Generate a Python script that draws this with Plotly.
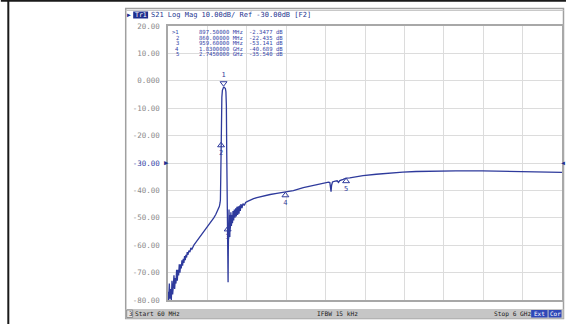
import plotly.graph_objects as go

# ---------------- data ----------------
freq_mhz = [60, 70, 80, 90, 100, 110, 120, 130, 140, 150, 160, 170, 180, 190, 200, 210, 220, 230, 240, 250,
            260, 270, 280, 290, 300, 310, 320, 330, 340, 350, 360, 375, 390, 405, 420, 435, 450,
            480, 510, 540, 570, 600, 630, 660, 690, 720, 750, 780, 800, 820, 835, 845, 850, 855,
            860, 866, 872, 880, 890, 897.5, 905, 915, 925, 933, 940, 945, 948, 952, 956, 959.6,
            963, 966, 969, 972, 976, 980, 984, 988, 992, 996, 1000, 1008, 1016, 1024, 1032, 1040,
            1050, 1060, 1070, 1080, 1090, 1100, 1110, 1120, 1130, 1140, 1150, 1160, 1175, 1190,
            1210, 1230, 1260, 1300, 1350, 1400, 1450, 1500, 1600, 1700, 1830, 1950, 2100, 2200,
            2300, 2400, 2480, 2500, 2510, 2518, 2526, 2540, 2580, 2610, 2630, 2650, 2700, 2745,
            2800, 2900, 3000, 3200, 3400, 3600, 3800, 4000, 4400, 4800, 5200, 5600, 6000]
s21_db = [-77, -80, -74, -79.5, -76, -80, -73, -78, -75, -71, -76, -72, -74, -69, -73, -69, -71, -67, -70, -67,
          -68.5, -65.5, -67.5, -65, -66.5, -64, -65.5, -63.5, -64.5, -62.5, -63.5, -62, -62.5, -61, -61.5, -60.3, -60,
          -59, -58, -57.2, -56.2, -55.2, -54.3, -53.4, -52.3, -51.2, -50, -48.8, -47.8, -46.8, -45.8, -44.5, -43.5, -36,
          -22.435, -12, -6, -3.5, -2.6, -2.3477, -2.3, -2.4, -2.8, -4, -9, -25, -38, -41, -48, -53.141,
          -66, -73.5, -62, -50, -53, -47, -55, -49, -57, -50, -54, -48, -53, -49, -52, -47.5,
          -51, -47, -50, -46.5, -49.5, -46, -49, -45.8, -48.5, -45.5, -47.5, -45, -46.5, -44.8,
          -45.5, -44.4, -44, -43.5, -43, -42.6, -42.3, -42, -41.5, -41.1, -40.689, -40.1, -39.0, -38.4,
          -37.9, -37.4, -37.0, -37.1, -38.8, -40.5, -38.2, -36.9, -36.6, -36.5, -37.1, -36.4, -36.0, -35.54,
          -35.4, -35.0, -34.6, -34.1, -33.6, -33.3, -33.1, -33.0, -32.9, -32.9, -33.0, -33.2, -33.4]

marker_ids = ["1", "2", "3", "4", "5"]
marker_freq_mhz = [897.5, 860.0, 959.6, 1830.0, 2745.0]
marker_db = [-2.3477, -22.435, -53.141, -40.689, -35.540]
marker_freq_text = ["897.50000 MHz", "860.00000 MHz", "959.60000 MHz", "1.8300000 GHz", "2.7450000 GHz"]
marker_val_text = ["-2.3477 dB", "-22.435 dB", "-53.141 dB", "-40.689 dB", "-35.540 dB"]

y_ticks = [20, 10, 0, -10, -20, -30, -40, -50, -60, -70, -80]
y_tick_labels = ["20.00", "10.00", "0.000", "-10.00", "-20.00", "-30.00", "-40.00", "-50.00", "-60.00", "-70.00", "-80.00"]
ref_level = -30
x_start, x_stop = 60, 6000
y_min, y_max = -80, 20

title_text = "S21 Log Mag 10.00dB/ Ref -30.00dB [F2]"
status_left = "Start 60 MHz"
status_mid = "IFBW 15 kHz"
status_right = "Stop 6 GHz"

# ---------------- layout geometry (pixels) ----------------
W, H = 568, 324
L, R, T, B = 168, 564, 26, 300


def px(x):
    return (x - L) / (R - L)


def py(y):
    return (B - y) / (B - T)


db_per_px = (y_max - y_min) / (B - T)

TRACE = "#2e3a9c"
BLUE = "#3545a8"
MONO = "DejaVu Sans Mono"

fig = go.Figure()

fig.add_trace(go.Scatter(x=freq_mhz, y=s21_db, mode="lines",
                         line=dict(color=TRACE, width=1.3), hoverinfo="skip", showlegend=False))

# markers on the trace
active = [marker_ids[0]]
fig.add_trace(go.Scatter(
    x=[marker_freq_mhz[0]], y=[marker_db[0] + 4 * db_per_px], mode="markers+text",
    marker=dict(symbol="triangle-down-open", size=6, color=TRACE, line=dict(width=1, color=TRACE)),
    text=active, textposition="top center", textfont=dict(family=MONO, size=7, color=TRACE),
    cliponaxis=False, showlegend=False, hoverinfo="skip"))
fig.add_trace(go.Scatter(
    x=marker_freq_mhz[1:], y=[v - 3 * db_per_px for v in marker_db[1:]], mode="markers+text",
    marker=dict(symbol="triangle-up-open", size=6, color=TRACE, line=dict(width=1, color=TRACE)),
    text=marker_ids[1:], textposition="bottom center", textfont=dict(family=MONO, size=7, color=TRACE),
    cliponaxis=False, showlegend=False, hoverinfo="skip"))

# marker triangles below the axis
fig.add_trace(go.Scatter(
    x=marker_freq_mhz, y=[y_min - 3.5 * db_per_px] * len(marker_freq_mhz), mode="markers",
    marker=dict(symbol=["triangle-up"] + ["triangle-up-open"] * 4, size=8, color="#4a5ab8",
                line=dict(width=1, color="#4a5ab8")),
    cliponaxis=False, showlegend=False, hoverinfo="skip"))

tick_text = [f"<span style='color:{BLUE}'>{t}</span>" if v == ref_level else t
             for v, t in zip(y_ticks, y_tick_labels)]

fig.update_layout(
    width=W, height=H, autosize=False,
    margin=dict(l=L, r=W - R, t=T, b=H - B, pad=0),
    paper_bgcolor="white", plot_bgcolor="white",
    showlegend=False,
    xaxis=dict(range=[x_start, x_stop], tick0=x_start, dtick=(x_stop - x_start) / 10,
               showticklabels=False, ticks="", showgrid=True, gridcolor="#dcdcdc", gridwidth=1,
               showline=True, linecolor="#a8a8a8", linewidth=1.5, mirror=True, zeroline=False,
               fixedrange=True),
    yaxis=dict(range=[y_min, y_max], tickvals=y_ticks, ticktext=tick_text, ticks="",
               tickfont=dict(family=MONO, size=7.5, color="#8a8a8a"), ticklabelstandoff=5,
               showgrid=True, gridcolor="#dcdcdc", gridwidth=1,
               showline=True, linecolor="#a8a8a8", linewidth=1.5, mirror=True, zeroline=False,
               fixedrange=True),
)

shapes = []
# outer table borders
shapes.append(dict(type="line", xref="paper", yref="paper", x0=px(0), x1=px(W), y0=py(0.8), y1=py(0.8),
                   line=dict(color="#1a1a1a", width=2)))
shapes.append(dict(type="line", xref="paper", yref="paper", x0=px(7.5), x1=px(7.5), y0=py(0), y1=py(H),
                   line=dict(color="#1a1a1a", width=2)))
# instrument frame
shapes.append(dict(type="rect", xref="paper", yref="paper", x0=px(125.5), x1=px(565.5), y0=py(8.5), y1=py(318.5),
                   line=dict(color="#a0a0a0", width=1.5), fillcolor="rgba(0,0,0,0)", layer="below"))
shapes.append(dict(type="line", xref="paper", yref="paper", x0=px(125.5), x1=px(565.5), y0=py(10.5), y1=py(10.5),
                   line=dict(color="#c8c8c8", width=1)))
# status bar
shapes.append(dict(type="rect", xref="paper", yref="paper", x0=px(125.5), x1=px(565.5), y0=py(309), y1=py(318.5),
                   line=dict(width=0), fillcolor="#c6c6c6"))
shapes.append(dict(type="rect", xref="paper", yref="paper", x0=px(126.5), x1=px(132.5), y0=py(310), y1=py(317.5),
                   line=dict(color="#808080", width=0.8), fillcolor="#e4e4e4"))
shapes.append(dict(type="rect", xref="paper", yref="paper", x0=px(533), x1=px(549.5), y0=py(310), y1=py(317.5),
                   line=dict(width=0), fillcolor="#2f48b8"))
shapes.append(dict(type="rect", xref="paper", yref="paper", x0=px(550.5), x1=px(563.5), y0=py(310), y1=py(317.5),
                   line=dict(width=0), fillcolor="#2f48b8"))
# Tr1 highlight
shapes.append(dict(type="rect", xref="paper", yref="paper", x0=px(133), x1=px(148), y0=py(11.5), y1=py(18.5),
                   line=dict(width=0), fillcolor="#1f2f8f"))
fig.update_layout(shapes=shapes)

ann = []


def text(x, y, s, size=6.5, color="#202020", anchor="left", family=MONO):
    ann.append(dict(x=px(x), y=py(y), xref="paper", yref="paper", text=s, showarrow=False,
                    xanchor=anchor, yanchor="middle", borderpad=0,
                    font=dict(family=family, size=size, color=color)))


# title bar
text(126, 15, "▶", size=6.5, color="#1f2f8f")
text(133.5, 15, "Tr1", size=6.5, color="#ffffff")
text(150, 15, title_text, size=7, color="#24348f")

# marker table
row_y = [32, 37.6, 43.2, 48.8, 54.4]
for i, (mid, ft, vt) in enumerate(zip(marker_ids, marker_freq_text, marker_val_text)):
    prefix = ">" + mid if i == 0 else mid
    text(180, row_y[i], prefix, size=5.6, color=BLUE, anchor="right")
    text(198, row_y[i], ft, size=5.6, color=BLUE)
    text(248, row_y[i], vt, size=5.6, color=BLUE)

# reference level indicators
ann.append(dict(x=px(163), y=ref_level, xref="paper", yref="y", text="▶", showarrow=False,
                xanchor="left", yanchor="middle", borderpad=0, font=dict(family=MONO, size=7, color="#1f2f8f")))
ann.append(dict(x=px(568), y=ref_level, xref="paper", yref="y", text="◀", showarrow=False,
                xanchor="right", yanchor="middle", borderpad=0, font=dict(family=MONO, size=6.5, color="#1f2f8f")))

# status bar text
text(127.5, 313.8, "3", size=6, color="#202020")
text(134, 313.8, status_left, size=6.2)
text(317, 313.8, status_mid, size=6.2)
text(495, 313.8, status_right, size=6.2)
text(541.2, 313.8, "Ext", size=6, color="#ffffff", anchor="center")
text(557, 313.8, "Cor", size=6, color="#ffffff", anchor="center")

fig.update_layout(annotations=ann)

fig.write_html("out.html", config={"displayModeBar": False},
               post_script="document.body.style.margin='0px';document.body.style.padding='0px';")
